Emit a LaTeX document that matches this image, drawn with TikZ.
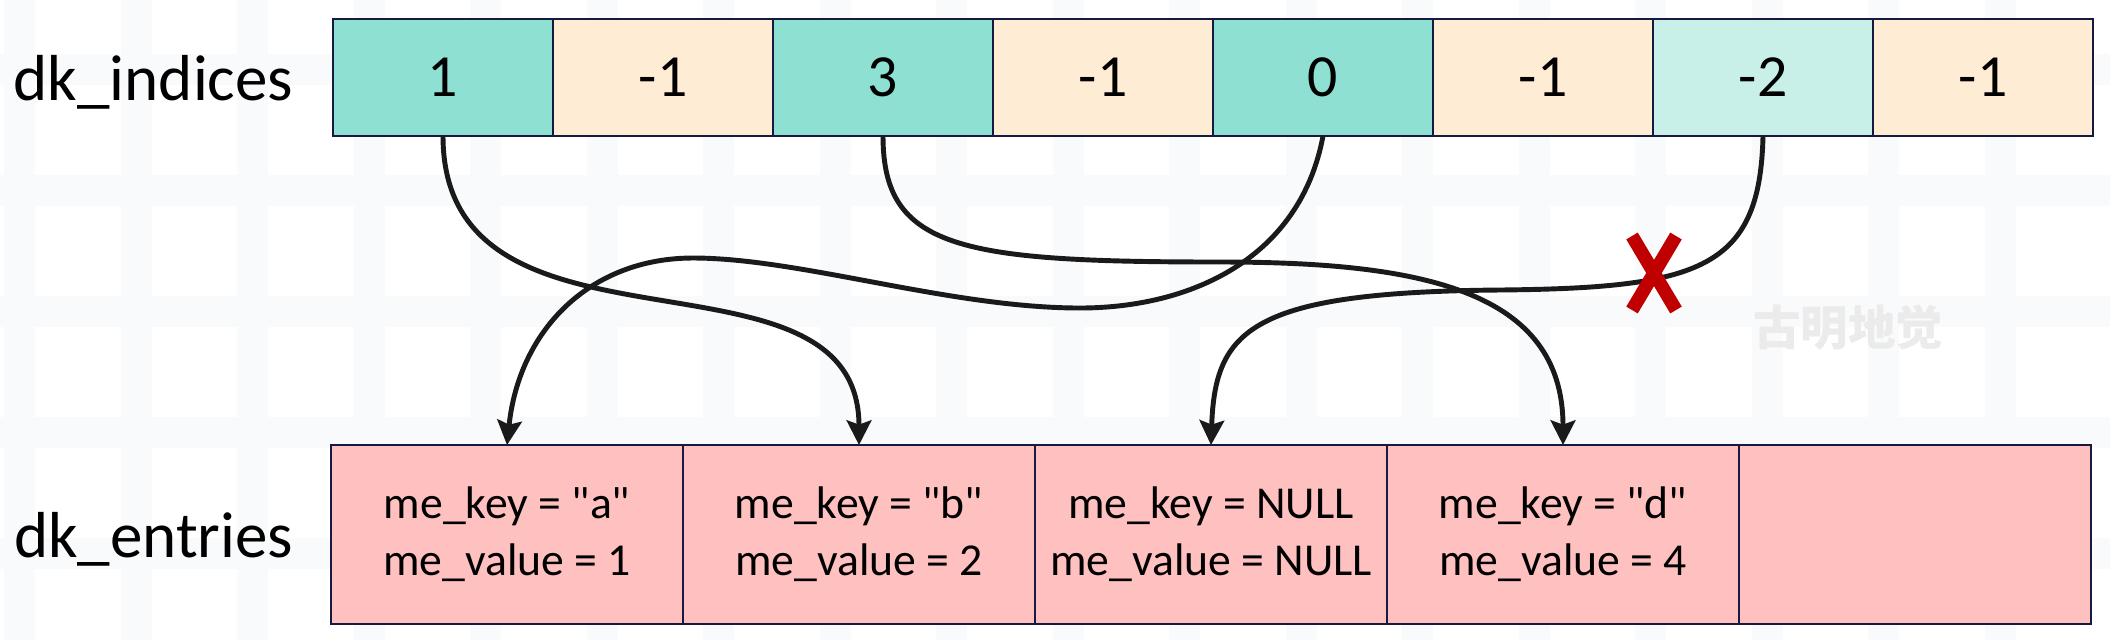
\documentclass[tikz,border=0pt]{standalone}
\usepackage{fontspec}
\setmainfont{Carlito}[Ligatures=TeXOff]
\newfontfamily\cjkfont{Noto Sans CJK SC}
\usetikzlibrary{arrows.meta}

\definecolor{cellteal}{HTML}{8EE0D2}
\definecolor{cellpale}{HTML}{C8F0E8}
\definecolor{cellpeach}{HTML}{FFECD4}
\definecolor{cellpink}{HTML}{FFC0C0}
\definecolor{cellline}{HTML}{161A40}
\definecolor{curveblack}{HTML}{1A1A1A}
\definecolor{crossred}{HTML}{C00000}
\definecolor{gridband}{HTML}{F8FAFB}
\definecolor{markgray}{HTML}{EBEBEB}

\tikzset{
  idx/.style={draw=cellline, line width=0.45pt, minimum width=2.2cm, minimum height=1.17cm,
    inner sep=0pt, outer sep=0pt, font=\fontsize{17}{20}\selectfont},
  ent/.style={draw=cellline, line width=0.45pt, fill=cellpink, minimum width=3.52cm, minimum height=1.79cm,
    inner sep=0pt, outer sep=0pt, align=center, font=\fontsize{13}{16.2}\selectfont},
  rowframe/.style={draw=cellline, line width=0.8pt},
  lbl/.style={anchor=base east, inner sep=0pt, font=\fontsize{18.5}{22}\selectfont},
  wmark/.style={text=markgray, font=\cjkfont\bfseries\fontsize{13.5}{16}\selectfont},
  conn/.style={draw=curveblack, line width=1.4pt, -{Stealth[length=7pt, width=7pt, inset=1.2pt]}},
  cut/.style={draw=crossred, line width=3.8pt},
  band/.style={fill=gridband}
}

\begin{document}
\begin{tikzpicture}
\useasboundingbox (0,0) rectangle (21.1,-6.4);
\fill[white] (0,0) rectangle (21.1,-6.4);
\foreach \x in {0,...,17} \fill[band] (0.04+1.165*\x,0) rectangle ++(0.31,-6.4);
\foreach \y in {0,...,4} \fill[band] (0,-0.54-1.21*\y) rectangle ++(21.1,-0.31);

\node[wmark] (wm) at (18.48,-3.28) {古明地觉};

\node[lbl] (lidx) at (2.94,-1.00) {dk\_indices};
\node[lbl] (lent) at (2.94,-5.57) {dk\_entries};

\node[idx, fill=cellteal] (i0) at (4.43,-0.775) {1};
\node[idx, fill=cellpeach] (i1) at (6.63,-0.775) {-1};
\node[idx, fill=cellteal] (i2) at (8.83,-0.775) {3};
\node[idx, fill=cellpeach] (i3) at (11.03,-0.775) {-1};
\node[idx, fill=cellteal] (i4) at (13.23,-0.775) {0};
\node[idx, fill=cellpeach] (i5) at (15.43,-0.775) {-1};
\node[idx, fill=cellpale] (i6) at (17.63,-0.775) {-2};
\node[idx, fill=cellpeach] (i7) at (19.83,-0.775) {-1};
\draw[rowframe] (i0.north west) rectangle (i7.south east);

\node[ent] (e0) at (5.07,-5.345) {me\_key = "a"\\me\_value = 1};
\node[ent] (e1) at (8.59,-5.345) {me\_key = "b"\\me\_value = 2};
\node[ent] (e2) at (12.11,-5.345) {me\_key = NULL\\me\_value = NULL};
\node[ent] (e3) at (15.63,-5.345) {me\_key = "d"\\me\_value = 4};
\node[ent] (e4) at (19.15,-5.345) {};
\draw[rowframe] (e0.north west) rectangle (e4.south east);

\draw[conn] (i0.south) .. controls +(0,-2.43) and +(0,2.15) .. (e1.north);
\draw[conn] (i2.south) .. controls +(0,-1.13) and +(-2.6,0) .. (12.2,-2.62)
  .. controls +(2.0,0) and +(0,1.55) .. (e3.north);
\draw[conn] (i4.south) .. controls +(-0.23,-1.23) and +(1.1,0) .. (10.8,-3.08)
  .. controls +(-1.3,0) and +(1.07,0) .. (6.93,-2.58)
  .. controls +(-1.03,0) and +(0.12,1.15) .. (e0.north);
\draw[conn] (i6.south) .. controls +(-0.03,-1.33) and +(2.0,0.02) .. (15.0,-2.90)
  .. controls +(-2.5,-0.02) and +(0.04,1.15) .. (e2.north);

\coordinate (cross) at (16.54,-2.73);
\draw[cut] (cross) +(-0.22,0.37) -- +(0.22,-0.37);
\draw[cut] (cross) +(0.22,0.37) -- +(-0.22,-0.37);
\end{tikzpicture}
\end{document}
